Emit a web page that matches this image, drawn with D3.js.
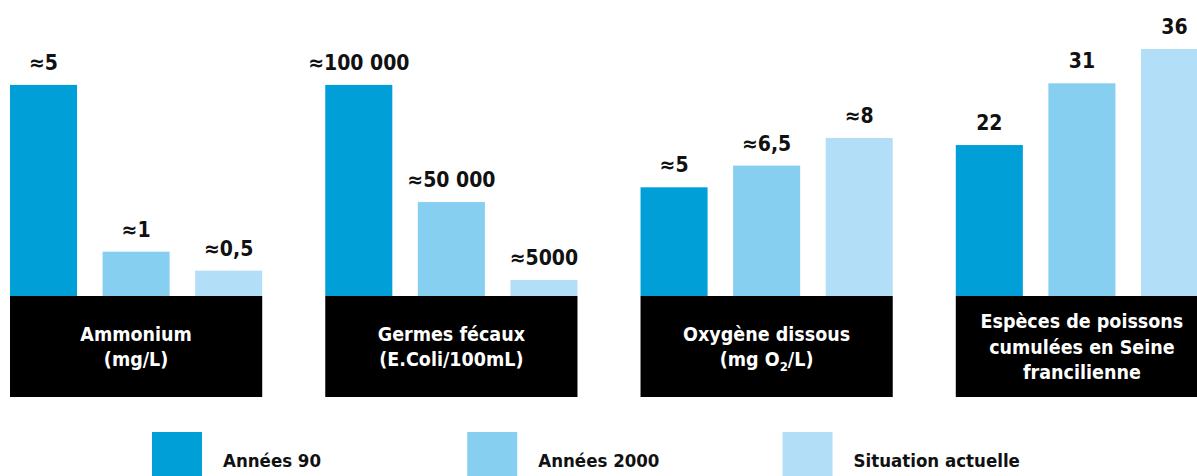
<!DOCTYPE html>
<html>
<head>
<meta charset="utf-8">
<script src="https://cdn.jsdelivr.net/npm/d3@7"></script>
<style>
  body { margin: 0; background: #fff; }
  svg { display: block; }
  text { font-family: "DejaVu Sans Condensed", "DejaVu Sans", sans-serif; font-stretch: condensed; font-weight: bold; }
</style>
</head>
<body>
<svg id="chart"></svg>
<script>
const groups = ["ammonium", "germes", "oxygene", "especes"];
const series = ["Années 90", "Années 2000", "Situation actuelle"];
const colors = ["#009fd7", "#87cff1", "#b2dff7"];

const groupLabels = [
  ["Ammonium", "(mg/L)"],
  ["Germes fécaux", "(E.Coli/100mL)"],
  ["Oxygène dissous", "(mg O_2/L)"],
  ["Espèces de poissons", "cumulées en Seine", "francilienne"]
];
const valueLabels = [
  ["≈5", "≈1", "≈0,5"],
  ["≈100 000", "≈50 000", "≈5000"],
  ["≈5", "≈6,5", "≈8"],
  ["22", "31", "36"]
];

// bar heights as drawn (each group has its own, schematic scale)
const ammonium = [5, 1.05, 0.6];
const germes = [100000, 44500, 7600];
const oxygene = [5.5, 6.6, 8];
const especes = [22, 31, 36];
const groupMax = [5.85, 117000, 12.5, 36];

const values = [ammonium, germes, oxygene, especes];

const width = 1197, height = 476;
const svg = d3.select("#chart").attr("width", width).attr("height", height);

const baseY = 296, topY = 49, boxH = 101;

const x0 = d3.scaleBand().domain(groups).range([10, 1208]).paddingInner(0.2).paddingOuter(0);
const x1 = d3.scaleBand().domain(series).range([0, x0.bandwidth()]).paddingInner(0.2757).paddingOuter(0);
const colorScale = d3.scaleOrdinal().domain(series).range(colors);

const g = svg.selectAll(".group")
  .data(groups)
  .enter()
  .append("g")
  .attr("class", "group")
  .attr("transform", d => "translate(" + x0(d) + ",0)");

g.each(function(key, gi) {
  const y = d3.scaleLinear().domain([0, groupMax[gi]]).range([baseY, topY]);
  const grp = d3.select(this);
  const rows = series.map((s, i) => ({ s: s, v: values[gi][i], label: valueLabels[gi][i] }));

  grp.selectAll("rect.bar")
    .data(rows)
    .enter()
    .append("rect")
    .attr("class", "bar")
    .attr("x", d => x1(d.s))
    .attr("width", x1.bandwidth())
    .attr("y", d => y(d.v))
    .attr("height", d => baseY - y(d.v))
    .style("fill", d => colorScale(d.s));

  grp.selectAll("text.val")
    .data(rows)
    .enter()
    .append("text")
    .attr("class", "val")
    .attr("x", d => x1(d.s) + x1.bandwidth() / 2)
    .attr("y", d => y(d.v) - 15)
    .attr("text-anchor", "middle")
    .style("font-size", "21px")
    .style("fill", "#111")
    .text(d => d.label);

  grp.append("rect")
    .attr("x", 0)
    .attr("y", baseY)
    .attr("width", x0.bandwidth())
    .attr("height", boxH)
    .style("fill", "#000");

  const lines = groupLabels[gi];
  const lh = 25.5;
  const first = baseY + boxH / 2 + 7 - (lines.length - 1) * lh / 2;
  const t = grp.append("text")
    .attr("text-anchor", "middle")
    .style("font-size", "19.5px")
    .style("fill", "#fff");

  lines.forEach((line, li) => {
    const parts = line.split(/_(\d)/);
    const ln = t.append("tspan")
      .attr("x", x0.bandwidth() / 2)
      .attr("y", first + li * lh);
    let back = 0;
    parts.forEach((p, pi) => {
      if (pi % 2 === 1) {
        ln.append("tspan").attr("dy", 5).style("font-size", "13px").text(p);
        back = -5;
      } else if (p) {
        ln.append("tspan").attr("dy", back).text(p);
        back = 0;
      }
    });
  });
});

// legend
const legend = svg.selectAll(".legend")
  .data(series)
  .enter()
  .append("g")
  .attr("class", "legend")
  .attr("transform", (d, i) => "translate(" + (x0(groups[i]) + 142) + ",432)");

legend.append("rect")
  .attr("width", 50)
  .attr("height", 50)
  .style("fill", colorScale);

legend.append("text")
  .attr("x", 71)
  .attr("y", 35)
  .style("font-size", "18.5px")
  .style("fill", "#111")
  .text(d => d);
</script>
</body>
</html>
